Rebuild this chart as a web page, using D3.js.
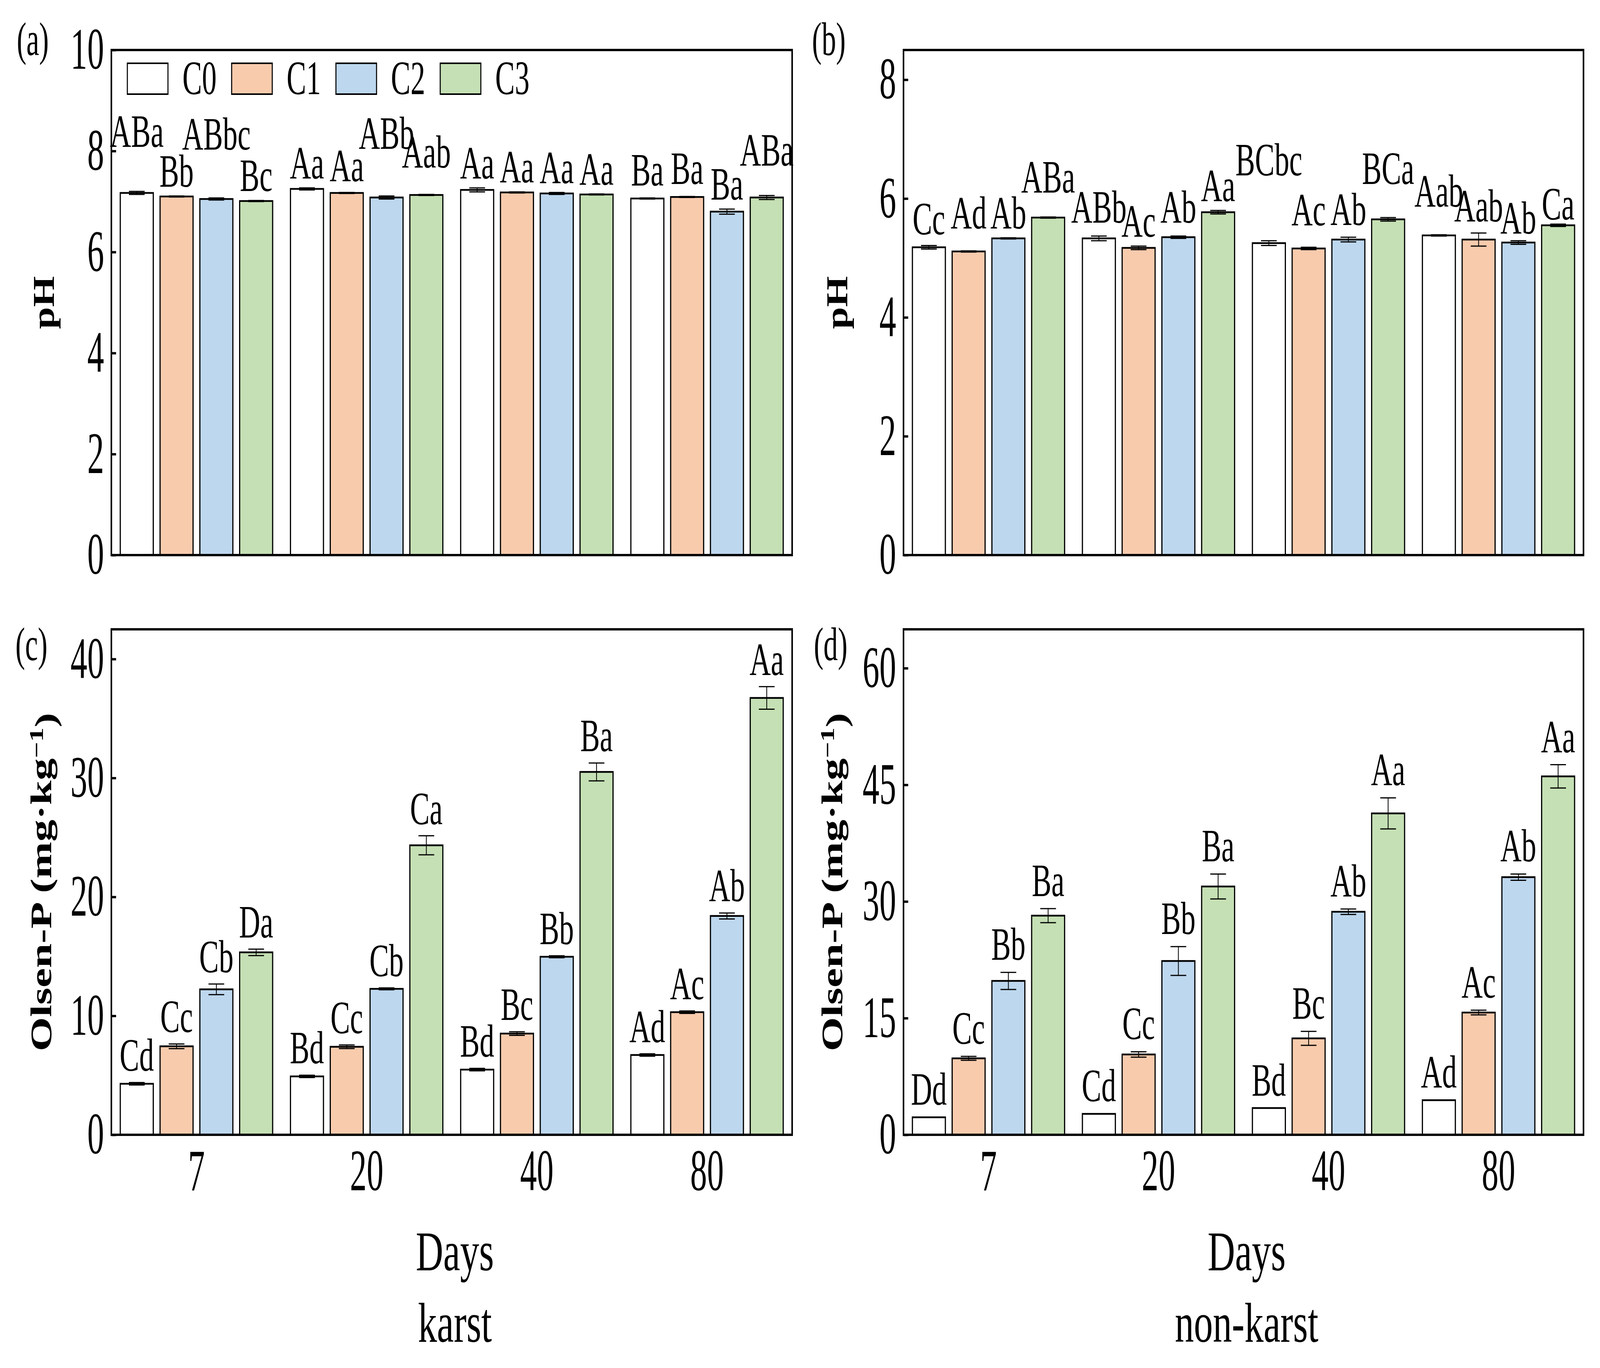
<!DOCTYPE html>
<html lang="en">
<head>
<meta charset="UTF-8">
<title>pH and Olsen-P bars</title>
<style>
  * { margin: 0; padding: 0; }
  html, body { width: 100%; height: 100%; overflow: hidden; background: #fff; }
  svg { display: block; width: 100vw; height: 100vh; }
</style>
</head>
<body>
<script src="https://cdn.jsdelivr.net/npm/d3@7/dist/d3.min.js"></script>
<script>
// ---- data ----
var days = ['7', '20', '40', '80'];
var series = ['C0', 'C1', 'C2', 'C3'];
var colors = ['#ffffff', '#f8cbad', '#bdd7ee', '#c5e0b4'];

// rows = series C0..C3, columns = days 7/20/40/80
var phKarst = [
  [7.17, 7.25, 7.23, 7.06],
  [7.10, 7.17, 7.18, 7.09],
  [7.05, 7.08, 7.16, 6.80],
  [7.01, 7.13, 7.14, 7.08]
];
var phKarstErr = [
  [0.03, 0.02, 0.04, 0.01],
  [0.01, 0.01, 0.01, 0.01],
  [0.02, 0.03, 0.02, 0.05],
  [0.01, 0.01, 0.01, 0.04]
];
var phKarstLetters = [
  ['ABa', 'Aa', 'Aa', 'Ba'],
  ['Bb', 'Aa', 'Aa', 'Ba'],
  ['ABbc', 'ABb', 'Aa', 'Ba'],
  ['Bc', 'Aab', 'Aa', 'ABa']
];

var phNonKarst = [
  [5.18, 5.33, 5.25, 5.38],
  [5.11, 5.17, 5.16, 5.31],
  [5.33, 5.35, 5.31, 5.26],
  [5.68, 5.77, 5.65, 5.55]
];
var phNonKarstErr = [
  [0.03, 0.04, 0.04, 0.01],
  [0.01, 0.03, 0.02, 0.11],
  [0.01, 0.02, 0.04, 0.03],
  [0.01, 0.03, 0.03, 0.02]
];
var phNonKarstLetters = [
  ['Cc', 'ABb', 'BCbc', 'Aab'],
  ['Ad', 'Ac', 'Ac', 'Aab'],
  ['Ab', 'Ab', 'Ab', 'Ab'],
  ['ABa', 'Aa', 'BCa', 'Ca']
];

var olsenKarst = [
  [4.29, 4.91, 5.48, 6.71],
  [7.44, 7.40, 8.51, 10.31],
  [12.23, 12.27, 14.97, 18.40],
  [15.34, 24.34, 30.51, 36.73]
];
var olsenKarstErr = [
  [0.10, 0.10, 0.10, 0.10],
  [0.20, 0.15, 0.15, 0.10],
  [0.45, 0.08, 0.08, 0.25],
  [0.27, 0.80, 0.75, 0.95]
];
var olsenKarstLetters = [
  ['Cd', 'Bd', 'Bd', 'Ad'],
  ['Cc', 'Cc', 'Bc', 'Ac'],
  ['Cb', 'Cb', 'Bb', 'Ab'],
  ['Da', 'Ca', 'Ba', 'Aa']
];

var olsenNonKarst = [
  [2.25, 2.69, 3.44, 4.45],
  [9.83, 10.33, 12.40, 15.72],
  [19.79, 22.35, 28.68, 33.13],
  [28.18, 31.93, 41.33, 46.09]
];
var olsenNonKarstErr = [
  [0, 0, 0, 0],
  [0.25, 0.35, 0.90, 0.30],
  [1.10, 1.85, 0.35, 0.40],
  [0.90, 1.60, 2.00, 1.50]
];
var olsenNonKarstLetters = [
  ['Dd', 'Cd', 'Bd', 'Ad'],
  ['Cc', 'Cc', 'Bc', 'Ac'],
  ['Bb', 'Bb', 'Ab', 'Ab'],
  ['Ba', 'Ba', 'Aa', 'Aa']
];

// ---- layout ----
var W = 6106, H = 3502;
var FONT = '"Liberation Serif", "Times New Roman", Times, serif';

// extra lift (px) of some letters so they do not collide, as in the original
var liftA = [[90, 0, 0, 8], [0, 5, 0, 8], [100, 97, 0, 0], [0, 45, 0, 52]];
var liftB = [[4, 10, 143, 48], [33, 0, 32, 6], [0, 10, 7, -6], [38, 0, 62, -12]];
var liftNone = [[0, 0, 0, 0], [0, 0, 0, 0], [0, 0, 0, 0], [0, 0, 0, 0]];

var panels = [
  { tag: '(a)', tagX: 64, tagY: 141, left: 425, right: 3023, top: 128, bottom: 1421,
    max: 10, ticks: [0, 2, 4, 6, 8, 10], vals: phKarst, errs: phKarstErr, letters: phKarstLetters,
    lift: liftA, gap: 24, title: 'pH', titleX: 205, xAxis: false, legend: true },
  { tag: '(b)', tagX: 3099, tagY: 141, left: 3448, right: 6043, top: 128, bottom: 1421,
    max: 8.5, ticks: [0, 2, 4, 6, 8], vals: phNonKarst, errs: phNonKarstErr, letters: phNonKarstLetters,
    lift: liftB, gap: 24, title: 'pH', titleX: 3234, xAxis: false },
  { tag: '(c)', tagX: 59, tagY: 1690, left: 425, right: 3023, top: 1611, bottom: 2905,
    max: 42.5, ticks: [0, 10, 20, 30, 40], vals: olsenKarst, errs: olsenKarstErr, letters: olsenKarstLetters,
    lift: liftNone, gap: 30, title: 'olsen', titleX: 195, xAxis: true, site: 'karst' },
  { tag: '(d)', tagX: 3106, tagY: 1690, left: 3448, right: 6043, top: 1611, bottom: 2905,
    max: 65, ticks: [0, 15, 30, 45, 60], vals: olsenNonKarst, errs: olsenNonKarstErr, letters: olsenNonKarstLetters,
    lift: liftNone, gap: 32, title: 'olsen', titleX: 3214, xAxis: true, site: 'non-karst' }
];

// the drawing is done in 6106x3502 units and stretched to the window
var svg = d3.select('body').append('svg')
  .attr('viewBox', '0 0 ' + W + ' ' + H)
  .attr('preserveAspectRatio', 'none');
svg.append('rect').attr('width', W).attr('height', H).attr('fill', '#fff');

// vertical stretch of text, the figure's fonts look taller than normal Times
function stretch(sel, k) {
  sel.each(function () {
    var t = d3.select(this);
    var x = +t.attr('x') || 0, y = +t.attr('y') || 0;
    t.attr('x', 0).attr('y', 0).attr('transform', 'translate(' + x + ',' + y + ') scale(1,' + k + ')');
  });
}

panels.forEach(function (p) {
  var w = p.right - p.left, h = p.bottom - p.top;
  var g = svg.append('g').attr('transform', 'translate(' + p.left + ',' + p.top + ')');

  var x0 = d3.scaleBand().domain(days).range([0, w]);
  var x1 = d3.scaleBand().domain(series).range([0, x0.bandwidth()]).paddingInner(0.171).paddingOuter(0.224);
  var y = d3.scaleLinear().domain([0, p.max]).range([h, 0]);

  var rows = [];
  series.forEach(function (s, si) {
    days.forEach(function (d, di) {
      rows.push({ s: s, si: si, d: d, v: p.vals[si][di], e: p.errs[si][di],
                  lab: p.letters[si][di], lift: p.lift[si][di] });
    });
  });

  // bars
  g.selectAll('rect.bar').data(rows).enter().append('rect')
    .classed('bar', true)
    .attr('x', function (r) { return x0(r.d) + x1(r.s); })
    .attr('y', function (r) { return y(r.v); })
    .attr('width', x1.bandwidth())
    .attr('height', function (r) { return h - y(r.v); })
    .attr('fill', function (r) { return colors[r.si]; })
    .attr('stroke', '#000')
    .attr('stroke-width', 4.5);

  // error bars
  var cap = 30;
  var eb = g.selectAll('g.err').data(rows.filter(function (r) { return r.e > 0; })).enter()
    .append('g').classed('err', true)
    .attr('transform', function (r) { return 'translate(' + (x0(r.d) + x1(r.s) + x1.bandwidth() / 2) + ',0)'; })
    .attr('stroke', '#000').attr('stroke-width', 3);
  eb.append('line').attr('y1', function (r) { return y(r.v - r.e); }).attr('y2', function (r) { return y(r.v + r.e); });
  eb.append('line').attr('x1', -cap).attr('x2', cap)
    .attr('y1', function (r) { return y(r.v + r.e); }).attr('y2', function (r) { return y(r.v + r.e); });
  eb.append('line').attr('x1', -cap).attr('x2', cap)
    .attr('y1', function (r) { return y(r.v - r.e); }).attr('y2', function (r) { return y(r.v - r.e); });

  // significance letters
  var lt = g.selectAll('text.lab').data(rows).enter().append('text')
    .classed('lab', true)
    .attr('x', function (r) { return x0(r.d) + x1(r.s) + x1.bandwidth() / 2; })
    .attr('y', function (r) { return y(r.v + r.e) - p.gap - r.lift; })
    .attr('text-anchor', 'middle')
    .attr('font-family', FONT)
    .attr('font-size', 112)
    .text(function (r) { return r.lab; });
  stretch(lt, 1.06);

  // y axis, ticks inside
  var ya = g.append('g').call(d3.axisLeft(y).tickValues(p.ticks).tickSizeInner(-18).tickSizeOuter(0).tickPadding(28));
  ya.select('.domain').remove();
  ya.selectAll('line').attr('stroke', '#000').attr('stroke-width', 6);
  ya.selectAll('text').attr('font-family', FONT).attr('font-size', 128).attr('fill', '#000');
  stretch(ya.selectAll('text'), 1.17);

  if (p.xAxis) {
    var xa = g.append('g').attr('transform', 'translate(0,' + h + ')')
      .call(d3.axisBottom(x0).tickSize(0).tickPadding(36));
    xa.select('.domain').remove();
    xa.selectAll('text').attr('font-family', FONT).attr('font-size', 128).attr('fill', '#000');
    stretch(xa.selectAll('text'), 1.17);

    var cx = (p.left + p.right) / 2 + 12;
    svg.append('text').attr('x', cx).attr('y', 3252).attr('text-anchor', 'middle')
      .attr('font-family', FONT).attr('font-size', 145).text('Days');
    svg.append('text').attr('x', cx).attr('y', 3435).attr('text-anchor', 'middle')
      .attr('font-family', FONT).attr('font-size', 145).text(p.site);
  }

  // frame
  g.append('rect').attr('width', w).attr('height', h)
    .attr('fill', 'none').attr('stroke', '#000').attr('stroke-width', 6);

  // panel tag
  var tg = svg.append('text').attr('x', p.tagX).attr('y', p.tagY)
    .attr('font-family', FONT).attr('font-size', 110).text(p.tag);
  stretch(tg, 1.1);

  // y title
  var cy = (p.top + p.bottom) / 2;
  if (p.title === 'pH') {
    svg.append('text')
      .attr('transform', 'translate(' + p.titleX + ',' + cy + ') rotate(-90) scale(0.86,1)')
      .attr('text-anchor', 'middle').attr('font-family', FONT).attr('font-weight', 'bold')
      .attr('font-size', 118).text('pH');
  } else {
    var t = svg.append('text')
      .attr('transform', 'translate(' + p.titleX + ',' + cy + ') rotate(-90)')
      .attr('text-anchor', 'middle').attr('font-family', FONT).attr('font-weight', 'bold')
      .attr('font-size', 113);
    t.append('tspan').text('Olsen-P (mg\u00b7kg');
    t.append('tspan').attr('dy', '-0.42em').attr('font-size', 74).text('\u22121');
    t.append('tspan').attr('dy', '0.42em').text(')');
  }

  // legend
  if (p.legend) {
    var lg = g.selectAll('g.leg').data(series).enter().append('g').classed('leg', true)
      .attr('transform', function (s, i) { return 'translate(' + (61 + i * 398) + ',34)'; });
    lg.append('rect').attr('width', 155).attr('height', 79)
      .attr('fill', function (s, i) { return colors[i]; })
      .attr('stroke', '#000').attr('stroke-width', 4);
    var lt2 = lg.append('text').attr('x', 210).attr('y', 79)
      .attr('font-family', FONT).attr('font-size', 112).text(function (s) { return s; });
    stretch(lt2, 1.1);
  }
});
</script>
</body>
</html>
